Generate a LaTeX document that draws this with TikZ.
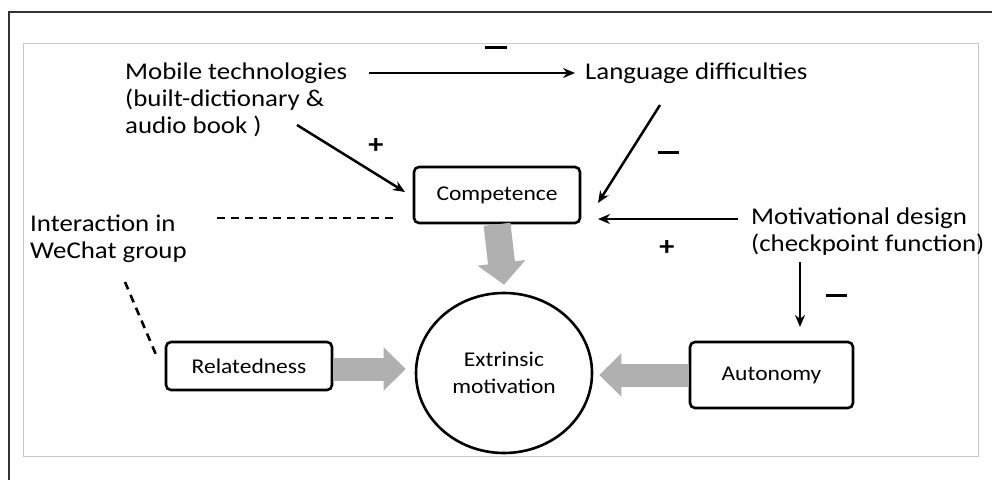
\documentclass[tikz,border=0pt]{standalone}
\usepackage{fontspec}
\setmainfont{Carlito}[FakeStretch=1.12]
\usetikzlibrary{arrows.meta,shapes.geometric}
\definecolor{blockgray}{HTML}{B0B0B0}
\definecolor{framegray}{HTML}{C8C8C8}
\definecolor{outerline}{HTML}{333333}
\tikzset{
  lbl/.style={inner sep=0pt, align=left, font=\fontsize{24}{27}\selectfont},
  boxlbl/.style={draw, line width=2.6pt, rounded corners=5pt, inner sep=0pt, font=\fontsize{21}{27}\selectfont},
  arr/.style={line width=2.5pt, -{Stealth[length=12pt,width=10pt]}},
  dashedline/.style={line width=2.6pt, dash pattern=on 8pt off 6pt},
  blockarrow/.style={blockgray, line width=23pt, -{Triangle[length=22pt,width=42pt]}},
  signbar/.style={inner sep=0pt},
  plussign/.style={inner sep=0pt, font=\fontsize{27}{27}\selectfont\bfseries}
}
\begin{document}
\begin{tikzpicture}[x=1pt,y=-1pt]
\useasboundingbox (0,0) rectangle (992,480);
\fill[white] (0,0) rectangle (992,480);
% frames
\draw[outerline, line width=2pt] (9,480) -- (9,12) -- (992,12);
\draw[framegray, line width=1pt] (23,43) rectangle (978,456);

% text labels
\node[lbl, anchor=west] (mob) at (125,100) {Mobile technologies\\(built-dictionary \&\\audio book )};
\node[lbl, anchor=west] (lang) at (585,73) {Language difficulties};
\node[lbl, anchor=west] (wechat) at (30,239) {Interaction in\\WeChat group};
\node[lbl, anchor=west] (mot) at (751,232) {Motivational design\\(checkpoint function)};

% boxes
\node[boxlbl, minimum width=166pt, minimum height=56pt] (comp) at (497,195) {Competence};
\node[boxlbl, minimum width=166pt, minimum height=48pt] (rel) at (249,366) {Relatedness};
\node[boxlbl, minimum width=163pt, minimum height=66pt] (auto) at (771.5,375) {Autonomy};
\node[draw, line width=2.6pt, ellipse, minimum width=176pt, minimum height=160pt, inner sep=0pt,
      align=center, font=\fontsize{21}{27}\selectfont] (circ) at (504,373) {Extrinsic\\motivation};

% signs
\node[signbar] (s1) at (496,47) {\rule{22pt}{3pt}};
\node[signbar] (s2) at (668,152) {\rule{21pt}{3pt}};
\node[signbar] (s3) at (836,295) {\rule{21pt}{3pt}};
\node[plussign] (p1) at (376,146) {+};
\node[plussign] (p2) at (667,248) {+};

% connector end points
\coordinate (m1) at (369,73);
\coordinate (m2) at (297,125);
\coordinate (c0) at (405,192);
\coordinate (l1) at (660,105);
\coordinate (c1) at (598,203);
\coordinate (t1) at (738,219);
\coordinate (c2) at (598,219);
\coordinate (t2) at (800,262);
\coordinate (a1) at (800,327);
\coordinate (w1) at (217,218);
\coordinate (w2) at (395,218);
\coordinate (w3) at (125,282);
\coordinate (w4) at (157,357);

% connectors
\draw[arr] (m1) -- ([xshift=-10pt]lang.west);
\draw[arr] (m2) -- (c0);
\draw[arr] (l1) -- (c1);
\draw[arr] (t1) -- (c2);
\draw[arr] (t2) -- (a1);
\draw[dashedline] (w1) -- (w2);
\draw[dashedline] (w3) -- (w4);

% block arrows
\draw[blockarrow, line width=27pt, -{Triangle[length=22pt,width=47pt]}] (comp.south) -- ([yshift=7pt]circ.north);
\draw[blockarrow] ([yshift=-3pt]rel.east) -- ([xshift=-9pt,yshift=-3pt]rel.east -| circ.west);
\draw[blockarrow] (auto.west) -- ([xshift=6pt]auto.west -| circ.east);
\end{tikzpicture}
\end{document}
